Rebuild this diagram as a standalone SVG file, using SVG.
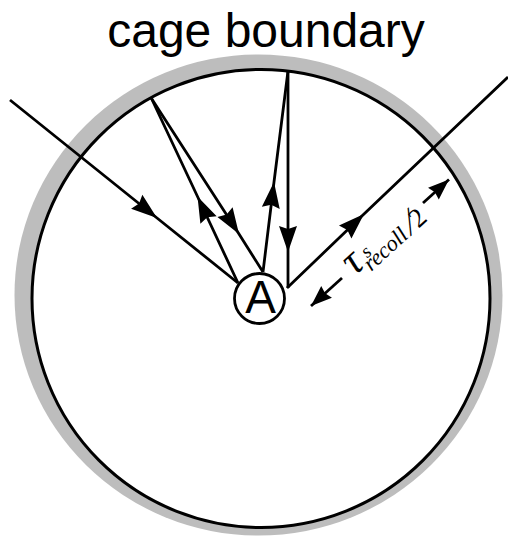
<svg xmlns="http://www.w3.org/2000/svg" width="508" height="537" viewBox="0 0 508 537">
<style>
.ln{fill:none;stroke:#000;stroke-width:2.8;stroke-linecap:butt}
.sans{font-family:"Liberation Sans",Arial,sans-serif;fill:#000}
.serif{font-family:"Liberation Serif","Times New Roman",serif;fill:#000}
</style>
<defs>
<marker id="ah" markerUnits="userSpaceOnUse" orient="auto" markerWidth="34" markerHeight="30" viewBox="-30 -12 34 24" refX="0" refY="0">
<path d="M0,0 L-26,-9 L-23,0 L-26,9 z" fill="#000"/>
</marker>
<marker id="ahs" markerUnits="userSpaceOnUse" orient="auto" markerWidth="34" markerHeight="30" viewBox="-30 -12 34 24" refX="0" refY="0">
<path d="M0,0 L-21,-8 L-19,0 L-21,8 z" fill="#000"/>
</marker>
</defs>
<rect width="508" height="537" fill="#fff"/>
<text class="sans" x="266" y="47" font-size="48" text-anchor="middle">cage boundary</text>
<g id="cage">
<ellipse cx="258.5" cy="295" rx="244" ry="240.5" fill="#bdbdbd"/>
<circle cx="261" cy="298.5" r="229" fill="#fff" stroke="#000" stroke-width="3"/>
</g>
<g id="connectors">
<path class="ln" marker-mid="url(#ah)" d="M10,100 L157,218 L238,283"/>
<path class="ln" marker-mid="url(#ah)" d="M238,283 L197.5,196.5 L151.5,98.5"/>
<path class="ln" marker-mid="url(#ah)" d="M151.5,98.5 L239,234 L263,272"/>
<path class="ln" marker-mid="url(#ah)" d="M263,272 L274,182 L288,71"/>
<path class="ln" marker-mid="url(#ah)" d="M288,71 L288,252 L288,288"/>
<path class="ln" marker-mid="url(#ah)" d="M287,288 L364,214 L508,77"/>
<path class="ln" marker-end="url(#ahs)" d="M342,278 L311,306"/>
<path class="ln" marker-end="url(#ahs)" d="M423,203 L449,179.5"/>
</g>
<g id="node-A">
<circle cx="259.5" cy="298.5" r="25" fill="#fff" stroke="#000" stroke-width="2.8"/>
<text class="sans" x="260.5" y="313" font-size="46" text-anchor="middle">A</text>
</g>
<g id="label-dimension" class="serif">
<g transform="translate(308,308) rotate(-42.5)">
<text x="56" y="8.2" font-size="42" font-style="italic">τ</text>
<text x="77" y="3.5" font-size="19" font-style="italic">s</text>
<text x="71" y="16" font-size="22.5" font-style="italic">recoll</text>
<text transform="translate(128.7,16.2) skewX(-22)" x="0" y="0" font-size="34" text-anchor="middle">/</text>
<text x="135" y="16.3" font-size="27">2</text>
</g>
</g>
</svg>
